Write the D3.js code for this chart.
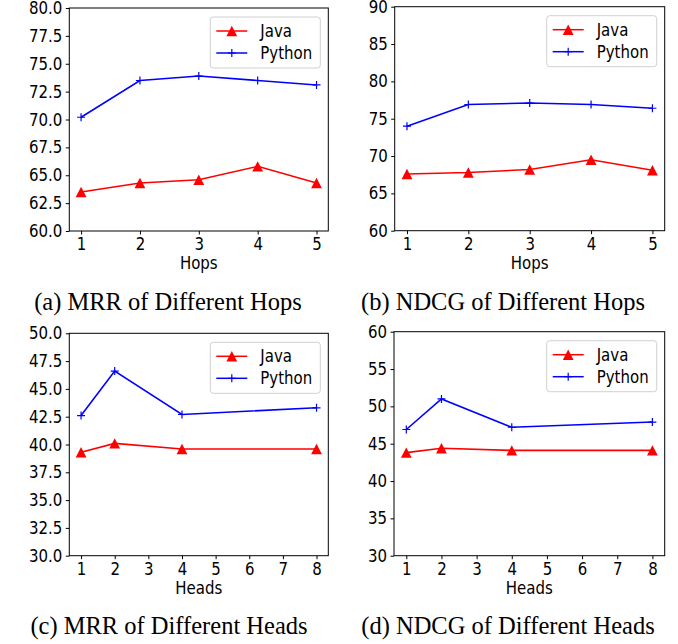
<!DOCTYPE html>
<html>
<head>
<meta charset="utf-8">
<script src="https://cdn.jsdelivr.net/npm/d3@7"></script>
<style>
  body { margin: 0; background: #fff; }
  text.sans { font-family: "DejaVu Sans", sans-serif; }
  text.st { transform-box: fill-box; transform-origin: center; transform: scaleY(1.15); }
  text.cap { font-family: "Liberation Serif", "Times New Roman", serif; }
</style>
</head>
<body>
<script>
// data
var hops = [1, 2, 3, 4, 5];
var heads = [1, 2, 4, 8];
var headTicks = [1, 2, 3, 4, 5, 6, 7, 8];

var mrrHopsJava = [63.5, 64.3, 64.6, 65.8, 64.3];
var mrrHopsPython = [70.2, 73.5, 73.9, 73.5, 73.1];
var ndcgHopsJava = [67.6, 67.8, 68.2, 69.5, 68.1];
var ndcgHopsPython = [74.0, 76.9, 77.1, 76.9, 76.4];

var mrrHeadsJava = [39.3, 40.1, 39.6, 39.6];
var mrrHeadsPython = [42.6, 46.6, 42.7, 43.3];
var ndcgHeadsJava = [43.8, 44.4, 44.1, 44.1];
var ndcgHeadsPython = [46.9, 51.0, 47.2, 47.9];

var mrrHopsTicks = [60, 62.5, 65, 67.5, 70, 72.5, 75, 77.5, 80];
var ndcgHopsTicks = [60, 65, 70, 75, 80, 85, 90];
var mrrHeadsTicks = [30, 32.5, 35, 37.5, 40, 42.5, 45, 47.5, 50];
var ndcgHeadsTicks = [30, 35, 40, 45, 50, 55, 60];

var seriesNames = ["Java", "Python"];
var captions = ["(a) MRR of Different Hops", "(b) NDCG of Different Hops",
                "(c) MRR of Different Heads", "(d) NDCG of Different Heads"];

var W = 678, H = 644;
var svg = d3.select("body").append("svg")
    .attr("width", W)
    .attr("height", H);

// panel layout
var panels = [
  {box: [69.3, 8, 328.3, 231], xs: hops, xt: hops, java: mrrHopsJava, py: mrrHopsPython,
   yt: mrrHopsTicks, fmt: d3.format(".1f"), xl: "Hops", yl: "MRR", cap: captions[0], capX: 168, capY: 310},
  {box: [394.7, 6.7, 664.7, 230.7], xs: hops, xt: hops, java: ndcgHopsJava, py: ndcgHopsPython,
   yt: ndcgHopsTicks, fmt: d3.format("d"), xl: "Hops", yl: "NDCG", cap: captions[1], capX: 503, capY: 310},
  {box: [69.3, 333.3, 328.3, 555.7], xs: heads, xt: headTicks, java: mrrHeadsJava, py: mrrHeadsPython,
   yt: mrrHeadsTicks, fmt: d3.format(".1f"), xl: "Heads", yl: "MRR", cap: captions[2], capX: 169, capY: 634},
  {box: [394, 331.7, 664.7, 555.7], xs: heads, xt: headTicks, java: ndcgHeadsJava, py: ndcgHeadsPython,
   yt: ndcgHeadsTicks, fmt: d3.format("d"), xl: "Heads", yl: "NDCG", cap: captions[3], capX: 508, capY: 634}
];

var fs = 15;

panels.forEach(function(p) {
  var x0 = p.box[0], y0 = p.box[1], x1 = p.box[2], y1 = p.box[3];
  var xmin = d3.min(p.xs), xmax = d3.max(p.xs), pad = (xmax - xmin) * 0.05;
  var ymin = d3.min(p.yt), ymax = d3.max(p.yt);

  var x = d3.scaleLinear().domain([xmin - pad, xmax + pad]).range([x0, x1]);
  var y = d3.scaleLinear().domain([ymin, ymax]).range([y1, y0]);

  var g = svg.append("g");

  // y axis
  var ya = g.append("g")
      .attr("transform", "translate(" + x0 + ",0)")
      .call(d3.axisLeft(y).tickValues(p.yt).tickFormat(p.fmt).tickSize(3.5).tickPadding(3.5));
  ya.select(".domain").remove();
  ya.selectAll("text").attr("class", "sans st").style("font-size", fs + "px").attr("fill", "#000");
  ya.selectAll("line").attr("stroke", "#000");

  // x axis
  var xa = g.append("g")
      .attr("transform", "translate(0," + y1 + ")")
      .call(d3.axisBottom(x).tickValues(p.xt).tickFormat(d3.format("d")).tickSize(3.5).tickPadding(4));
  xa.select(".domain").remove();
  xa.selectAll("text").attr("class", "sans st").style("font-size", fs + "px").attr("fill", "#000");
  xa.selectAll("line").attr("stroke", "#000");

  // frame
  g.append("rect")
      .attr("x", x0).attr("y", y0)
      .attr("width", x1 - x0).attr("height", y1 - y0)
      .attr("fill", "none").attr("stroke", "#000").attr("stroke-width", 1);

  // axis labels
  g.append("text")
      .attr("class", "sans st")
      .attr("x", (x0 + x1) / 2)
      .attr("y", y1 + 37.5)
      .attr("text-anchor", "middle")
      .style("font-size", fs + "px")
      .text(p.xl);

  var bb = ya.node().getBBox();
  var lx = bb.x - 6.5;
  g.append("text")
      .attr("class", "sans")
      .attr("transform", "translate(" + lx + "," + ((y0 + y1) / 2) + ") rotate(-90) scale(1.12,1)")
      .attr("text-anchor", "middle")
      .style("font-size", fs + "px")
      .text(p.yl);

  var line = d3.line()
      .x(function(d, i) { return x(p.xs[i]); })
      .y(function(d) { return y(d); });

  // Java series
  g.append("path")
      .datum(p.java)
      .attr("d", line)
      .attr("fill", "none")
      .attr("stroke", "#ff0000")
      .attr("stroke-width", 1.6);
  g.selectAll(".tri")
      .data(p.java)
    .enter().append("path")
      .attr("class", "tri")
      .attr("transform", function(d, i) { return "translate(" + x(p.xs[i]) + "," + y(d) + ")"; })
      .attr("d", "M0,-5.2L5.4,5.2L-5.4,5.2Z")
      .attr("fill", "#ff0000");

  // Python series
  g.append("path")
      .datum(p.py)
      .attr("d", line)
      .attr("fill", "none")
      .attr("stroke", "#0000ff")
      .attr("stroke-width", 1.6);
  g.selectAll(".plus")
      .data(p.py)
    .enter().append("path")
      .attr("class", "plus")
      .attr("transform", function(d, i) { return "translate(" + x(p.xs[i]) + "," + y(d) + ")"; })
      .attr("d", "M-4,0H4M0,-4V4")
      .attr("stroke", "#0000ff")
      .attr("stroke-width", 1.2);

  // legend
  var lw = 110, lh = 51;
  var lg = g.append("g")
      .attr("transform", "translate(" + (x1 - 8 - lw) + "," + (y0 + 9) + ")");
  lg.append("rect")
      .attr("width", lw).attr("height", lh)
      .attr("rx", 3)
      .attr("fill", "#fff").attr("fill-opacity", 0.8)
      .attr("stroke", "#d0d0d0").attr("stroke-width", 1);
  seriesNames.forEach(function(name, k) {
    var ry = 14 + k * 22;
    var col = k === 0 ? "#ff0000" : "#0000ff";
    lg.append("line")
        .attr("x1", 6).attr("x2", 37).attr("y1", ry).attr("y2", ry)
        .attr("stroke", col).attr("stroke-width", 1.5);
    if (k === 0) {
      lg.append("path")
          .attr("transform", "translate(21.5," + ry + ")")
          .attr("d", "M0,-5.2L5.4,5.2L-5.4,5.2Z")
          .attr("fill", col);
    } else {
      lg.append("path")
          .attr("transform", "translate(21.5," + ry + ")")
          .attr("d", "M-4,0H4M0,-4V4")
          .attr("stroke", col).attr("stroke-width", 1.2);
    }
    lg.append("text")
        .attr("class", "sans st")
        .attr("x", 50).attr("y", ry)
        .attr("dy", "0.36em")
        .style("font-size", fs + "px")
        .text(name);
  });

  // caption
  svg.append("text")
      .attr("class", "cap")
      .attr("x", p.capX)
      .attr("y", p.capY)
      .attr("text-anchor", "middle")
      .style("font-size", "24.5px")
      .text(p.cap);
});
</script>
</body>
</html>
